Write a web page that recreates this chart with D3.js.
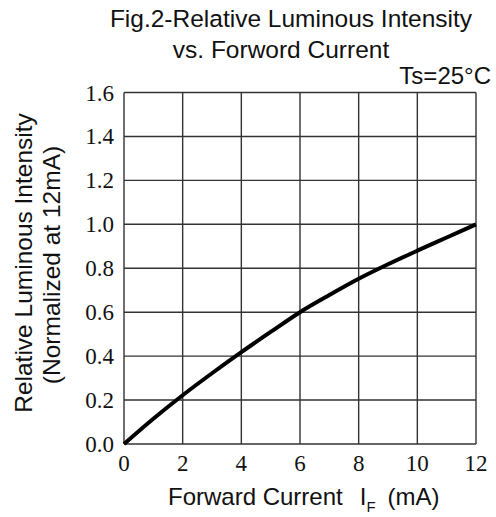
<!DOCTYPE html>
<html>
<head>
<meta charset="utf-8">
<script src="https://cdn.jsdelivr.net/npm/d3@7"></script>
<style>
  body { margin: 0; background: #fff; }
  svg { display: block; }
</style>
</head>
<body>
<svg id="chart"></svg>
<script>
// forward current (mA) and relative luminous intensity
const currentMA = [0, 1, 2, 3, 4, 5, 6, 7, 8, 9, 10, 11, 12];
const relIntensity = [0, 0.115, 0.222, 0.322, 0.418, 0.51, 0.6, 0.678, 0.752, 0.818, 0.88, 0.94, 1.0];
const xTicks = [0, 2, 4, 6, 8, 10, 12];
const yTicks = [0, 0.2, 0.4, 0.6, 0.8, 1.0, 1.2, 1.4, 1.6];

const width = 496;
const height = 517;
const margin = { top: 92.5, right: 20, bottom: 73, left: 124 };

const svg = d3.select('#chart')
  .attr('width', width)
  .attr('height', height);

const xScale = d3.scaleLinear()
  .domain([0, 12])
  .range([margin.left, width - margin.right]);

const yScale = d3.scaleLinear()
  .domain([0, 1.6])
  .range([height - margin.bottom, margin.top]);

const gridColor = '#333';

// grid
svg.append('g')
  .selectAll('line')
  .data(xTicks)
  .enter().append('line')
  .attr('x1', d => xScale(d))
  .attr('x2', d => xScale(d))
  .attr('y1', yScale(0))
  .attr('y2', yScale(1.6))
  .attr('stroke', gridColor)
  .attr('stroke-width', 1.4);

svg.append('g')
  .selectAll('line')
  .data(yTicks)
  .enter().append('line')
  .attr('x1', xScale(0))
  .attr('x2', xScale(12))
  .attr('y1', d => yScale(d))
  .attr('y2', d => yScale(d))
  .attr('stroke', gridColor)
  .attr('stroke-width', 1.4);

// tick labels
const serif = '"Liberation Serif", "Times New Roman", serif';

svg.append('g')
  .selectAll('text')
  .data(xTicks)
  .enter().append('text')
  .attr('x', d => xScale(d))
  .attr('y', yScale(0) + 27)
  .attr('text-anchor', 'middle')
  .style('font-family', serif)
  .style('font-size', '23px')
  .attr('fill', '#111')
  .text(d => d);

svg.append('g')
  .selectAll('text')
  .data(yTicks)
  .enter().append('text')
  .attr('x', margin.left - 10)
  .attr('y', d => yScale(d) + 8)
  .attr('text-anchor', 'end')
  .style('font-family', serif)
  .style('font-size', '23px')
  .attr('fill', '#111')
  .text(d => d.toFixed(1));

// curve
const line = d3.line()
  .x((d, i) => xScale(currentMA[i]))
  .y(d => yScale(d))
  .curve(d3.curveMonotoneX);

svg.append('path')
  .datum(relIntensity)
  .attr('d', line)
  .attr('fill', 'none')
  .attr('stroke', '#000')
  .attr('stroke-width', 4);

// titles
const sans = '"Liberation Sans", Arial, sans-serif';

svg.append('text')
  .attr('x', 291)
  .attr('y', 27)
  .attr('text-anchor', 'middle')
  .style('font-family', sans)
  .style('font-size', '24.5px')
  .attr('fill', '#111')
  .text('Fig.2-Relative Luminous Intensity');

svg.append('text')
  .attr('x', 281)
  .attr('y', 58)
  .attr('text-anchor', 'middle')
  .style('font-family', sans)
  .style('font-size', '24.5px')
  .attr('fill', '#111')
  .text('vs. Forword Current');

svg.append('text')
  .attr('x', 491)
  .attr('y', 84)
  .attr('text-anchor', 'end')
  .style('font-family', sans)
  .style('font-size', '24px')
  .attr('fill', '#111')
  .text('Ts=25°C');

// x axis label
const xLabel = svg.append('text')
  .attr('x', 168)
  .attr('y', 505)
  .attr('text-anchor', 'start')
  .style('font-family', sans)
  .style('font-size', '24px')
  .attr('fill', '#111');
xLabel.append('tspan').text('Forward Current');
xLabel.append('tspan')
  .attr('dx', 17)
  .text('I');
xLabel.append('tspan')
  .attr('dy', 7)
  .style('font-size', '15px')
  .text('F');
xLabel.append('tspan')
  .attr('dx', 12)
  .attr('dy', -7)
  .text('(mA)');

// y axis label
svg.append('text')
  .attr('transform', 'translate(32, 263) rotate(-90)')
  .attr('text-anchor', 'middle')
  .style('font-family', sans)
  .style('font-size', '24.5px')
  .attr('fill', '#111')
  .text('Relative Luminous Intensity');

svg.append('text')
  .attr('transform', 'translate(60, 265) rotate(-90)')
  .attr('text-anchor', 'middle')
  .style('font-family', sans)
  .style('font-size', '24.5px')
  .attr('fill', '#111')
  .text('(Normalized at 12mA)');
</script>
</body>
</html>
